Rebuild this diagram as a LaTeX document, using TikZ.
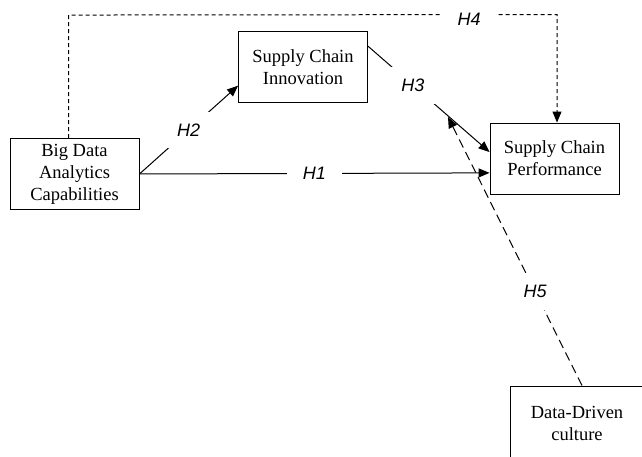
\documentclass[tikz,border=0pt]{standalone}
\usepackage{fontspec}
\setmainfont{Liberation Serif}
\setsansfont{Liberation Sans}
\usetikzlibrary{arrows.meta,calc,positioning}

\begin{document}
\begin{tikzpicture}[
    x=1pt, y=-1pt,
    every node/.append style={font=\fontsize{18.5}{22}\selectfont},
    % construct boxes
    construct/.style={draw, line width=0.9pt, minimum width=129pt, minimum height=71pt, align=center, inner sep=2pt},
    hyplabel/.style={fill=white, inner xsep=16pt, inner ysep=12pt, font=\fontsize{18}{20}\selectfont\sffamily\itshape},
    arrow/.style={-{Triangle[length=11pt,width=9pt]}, line width=1pt},
    dasharrow/.style={-{Triangle[length=11pt,width=9pt]}, line width=1pt, dash pattern=on 4pt off 3pt},
    longdash/.style={-{Triangle[length=11pt,width=9pt]}, line width=1pt, dash pattern=on 9pt off 5pt},
]
\useasboundingbox (0,0) rectangle (642,457);
\clip (0,0) rectangle (642,457);

% ========== constructs ==========
\node[construct] (bdac) at (74.5,174) {Big Data\\Analytics\\Capabilities};
\node[construct] (sci) at (303,67) {Supply Chain\\Innovation};
\node[construct] (scp) at (554.5,158.5) {Supply Chain\\Performance};
\node[construct, minimum width=134pt, minimum height=74pt] (ddc) at (577,423) {Data-Driven\\culture};

% ========== helper points ==========
\coordinate (h4left) at ($(bdac.north)+(-6,-123)$);
\coordinate (h4right) at ($(scp.north)+(2.5,-108)$);
\coordinate (h5tip) at (448,117);

% ========== hypotheses ==========
% H1, H2, H3
\draw[arrow] (bdac.east) -- node[hyplabel]{H1} ($(scp.south west)!0.3!(scp.north west)$);
\draw[arrow] (bdac.east) -- node[hyplabel]{H2} ($(sci.south west)!0.24!(sci.north west)$);
\draw[arrow] ($(sci.south east)!0.79!(sci.north east)$) -- node[hyplabel, pos=0.37]{H3} ($(scp.south west)!0.59!(scp.north west)$);

% H4 (dashed, over the top)
\draw[dasharrow] (bdac.north -| h4left) -- (h4left) -- node[hyplabel, pos=0.82, yshift=-5pt]{H4} (h4right) -- (scp.north -| h4right);

% H5 (moderation)
\draw[longdash] ($(ddc.north)+(5,0)$) -- node[hyplabel, pos=0.35]{H5} (h5tip);

\end{tikzpicture}
\end{document}
